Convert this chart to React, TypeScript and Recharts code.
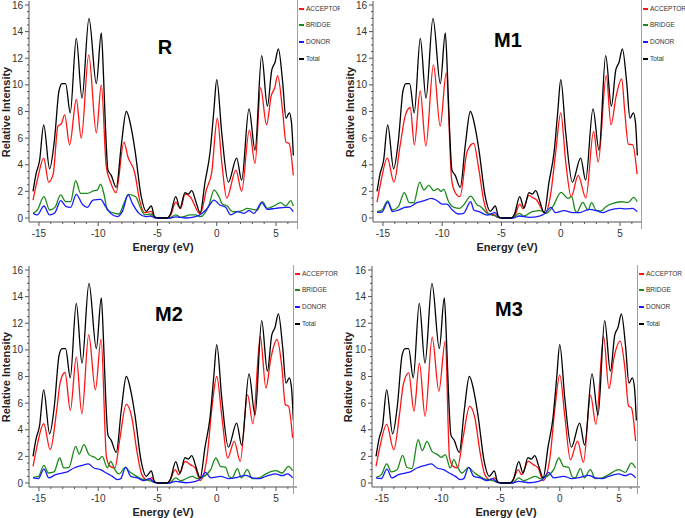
import { LineChart, Line, XAxis, YAxis, Legend } from "recharts";

type Pt = [number, number];

const SERIES = ["ACCEPTOR", "BRIDGE", "DONOR", "Total"];
const COLORS = ["#ff1414", "#1a8a1a", "#1a1aff", "#000000"];
const TITLES = ["R", "M1", "M2", "M3"];

const X_LABELED = [-15, -10, -5, 0, 5];
const X_TICKS = [-15, -14, -13, -12, -11, -10, -9, -8, -7, -6, -5, -4, -3, -2, -1, 0, 1, 2, 3, 4, 5, 6];
const Y_LABELED = [0, 2, 4, 6, 8, 10, 12, 14, 16];
const Y_TICKS = [
  0, 0.5, 1, 1.5, 2, 2.5, 3, 3.5, 4, 4.5, 5, 5.5, 6, 6.5, 7, 7.5, 8, 8.5, 9, 9.5, 10, 10.5, 11, 11.5, 12,
  12.5, 13, 13.5, 14, 14.5, 15, 15.5, 16,
];

// energy (eV), relative intensity
const TOTAL: Pt[] = [
  [-15.5, 2.0], [-15.25, 3.3], [-14.95, 4.3], [-14.6, 7.0], [-14.1, 3.7], [-13.7, 5.8], [-13.3, 9.6],
  [-13.05, 10.1], [-12.75, 10.1], [-12.36, 7.9], [-11.85, 13.5], [-11.37, 9.0], [-10.78, 15.0],
  [-10.16, 10.1], [-9.74, 13.9], [-9.55, 10.6], [-9.37, 6.4], [-9.18, 3.6], [-8.9, 3.2], [-8.48, 2.3],
  [-8.05, 5.5], [-7.63, 8.0], [-7.2, 6.7], [-6.9, 5.1], [-6.37, 1.6], [-5.95, 0.5], [-5.52, 0.9],
  [-5.25, 0.1], [-4.9, 0], [-4.2, 0], [-3.9, 0.3], [-3.46, 1.6], [-3.1, 0.75], [-2.68, 1.9], [-2.4, 1.8],
  [-2.11, 2.05], [-1.75, 1.2], [-1.4, 0.4], [-0.99, 2.7], [-0.57, 4.9], [-0.25, 8.0], [0.0, 10.4],
  [0.42, 6.4], [0.98, 2.7], [1.68, 4.5], [2.1, 2.85], [2.72, 8.2], [3.23, 5.1], [3.79, 12.2], [4.27, 8.4],
  [4.64, 11.1], [4.92, 11.7], [5.2, 12.7], [5.56, 10.2], [5.84, 7.5], [6.12, 7.9], [6.3, 7.2], [6.46, 4.7],
];

const R_ACCEPTOR: Pt[] = [
  [-15.5, 1.35], [-15.1, 3.0], [-14.6, 4.5], [-14.18, 2.7], [-13.8, 3.3], [-13.4, 6.9], [-13.1, 7.1],
  [-12.83, 7.75], [-12.41, 5.5], [-11.85, 8.9], [-11.43, 6.0], [-10.8, 12.25], [-10.16, 6.4], [-9.74, 10.0],
  [-9.32, 3.85], [-9.0, 2.8], [-8.5, 1.9], [-7.83, 5.7], [-7.5, 4.6], [-6.92, 3.4], [-6.5, 1.3], [-6.1, 0.4],
  [-5.52, 0.5], [-5.25, 0.05], [-4.9, 0], [-4.2, 0], [-3.9, 0.2], [-3.46, 1.2], [-3.05, 0.7], [-2.68, 1.8],
  [-2.25, 1.6], [-1.4, 0.3], [-0.85, 2.2], [-0.43, 3.4], [0.05, 7.5], [0.42, 4.2], [0.84, 1.5], [1.62, 3.6],
  [2.1, 2.0], [2.75, 6.6], [3.23, 4.1], [3.7, 9.8], [4.2, 7.0], [4.6, 9.2], [4.9, 9.8], [5.14, 10.7],
  [5.56, 8.0], [5.84, 5.7], [6.1, 5.6], [6.46, 3.2],
];

const R_BRIDGE: Pt[] = [
  [-15.5, 0.35], [-15.14, 0.6], [-14.58, 1.6], [-14.1, 0.6], [-13.65, 0.8], [-13.17, 1.73], [-12.75, 1.23],
  [-12.33, 1.23], [-11.9, 2.8], [-11.48, 1.85], [-10.92, 1.85], [-10.36, 2.05], [-10.08, 2.1], [-9.8, 2.55],
  [-9.5, 1.73], [-9.23, 0.6], [-8.8, 0.4], [-8.25, 0.3], [-7.83, 1.1], [-7.46, 1.78], [-6.84, 1.6],
  [-6.42, 0.73], [-6.05, 0.23], [-5.58, 0.3], [-5.15, 0.05], [-4.8, 0], [-4.0, 0], [-3.47, 0.23],
  [-3.05, 0.05], [-2.2, 0.23], [-1.78, 0.23], [-1.36, 0.1], [-0.65, 0.98], [-0.23, 2.1], [0.19, 1.6],
  [0.47, 1.05], [0.89, 0.9], [1.32, 0.48], [1.74, 0.48], [2.16, 0.55], [2.58, 0.73], [3.0, 0.65],
  [3.42, 0.6], [3.85, 1.23], [4.27, 0.73], [4.83, 0.9], [5.39, 1.15], [5.82, 0.9], [6.24, 1.3], [6.46, 0.9],
];

const R_DONOR: Pt[] = [
  [-15.5, 0.35], [-15.14, 0.23], [-14.58, 0.9], [-14.1, 0.23], [-13.65, 0.4], [-13.17, 1.3], [-12.7, 0.85],
  [-12.33, 0.8], [-11.85, 1.78], [-11.34, 1.03], [-10.92, 0.8], [-10.44, 1.35], [-9.8, 1.4], [-9.37, 0.85],
  [-8.95, 0.35], [-8.39, 0.1], [-7.97, 0.48], [-7.46, 1.73], [-7.12, 1.1], [-6.56, 0.35], [-6.0, 0.1],
  [-5.58, 0.15], [-5.2, 0], [-3.9, 0], [-3.47, 0.08], [-2.6, 0], [-1.78, 0.1], [-1.22, 0.35], [-0.79, 0.73],
  [-0.23, 1.35], [0.25, 0.98], [0.75, 0.8], [1.18, 0.23], [1.74, 0.48], [2.3, 0.35], [2.72, 0.55],
  [3.14, 0.35], [3.79, 1.15], [4.27, 0.65], [4.97, 0.73], [5.82, 0.8], [6.1, 0.8], [6.45, 0.48],
];

const M1_ACCEPTOR: Pt[] = [
  [-15.5, 1.2], [-15.2, 2.6], [-14.63, 4.5], [-14.07, 2.7], [-13.56, 5.4], [-13.1, 7.75], [-12.7, 8.3],
  [-12.35, 5.5], [-11.86, 9.55], [-11.38, 5.4], [-10.74, 11.5], [-10.17, 6.9], [-9.66, 10.9], [-9.2, 2.85],
  [-8.9, 1.9], [-8.5, 1.6], [-7.9, 5.0], [-7.35, 5.6], [-6.9, 3.6], [-6.5, 1.3], [-6.05, 0.3], [-5.6, 0.25],
  [-5.35, 0.05], [-4.9, 0], [-4.2, 0], [-3.96, 0.05], [-3.45, 1.05], [-3.2, 0.7], [-2.68, 1.7], [-2.31, 1.5],
  [-2.1, 1.4], [-1.55, 0.6], [-1.32, 0.35], [-0.85, 1.8], [-0.42, 5.0], [0.0, 7.9], [0.42, 4.2], [0.88, 1.6],
  [1.47, 3.2], [2.12, 1.5], [2.77, 6.5], [3.16, 4.2], [3.84, 10.7], [4.24, 7.0], [4.66, 9.1], [5.14, 10.45],
  [5.4, 8.0], [5.7, 5.55], [6.07, 5.5], [6.44, 3.3],
];

const M1_BRIDGE: Pt[] = [
  [-15.5, 0.48], [-15.08, 0.6], [-14.6, 1.28], [-14.2, 0.6], [-13.7, 0.85], [-13.2, 1.9], [-12.77, 1.15],
  [-12.4, 1.15], [-11.9, 2.7], [-11.55, 2.1], [-11.13, 2.45], [-10.7, 2.05], [-10.37, 2.2], [-10.1, 2.0],
  [-9.86, 2.15], [-9.5, 1.3], [-9.0, 0.8], [-8.53, 0.73], [-8.2, 0.97], [-7.6, 1.65], [-7.04, 0.97],
  [-6.75, 0.85], [-6.2, 0.35], [-5.5, 0.15], [-5.0, 0], [-4.1, 0], [-3.5, 0.35], [-3.1, 0.15], [-2.4, 0.48],
  [-1.7, 0.55], [-1.25, 0.35], [-0.68, 0.85], [0.03, 1.92], [0.6, 1.48], [0.93, 1.6], [1.2, 0.6],
  [1.35, 0.43], [1.86, 1.18], [2.3, 0.6], [2.6, 1.15], [2.97, 0.6], [3.4, 0.53], [3.8, 0.85], [4.4, 1.1],
  [5.1, 1.22], [5.7, 1.18], [6.15, 1.55], [6.45, 1.22],
];

const M1_DONOR: Pt[] = [
  [-15.5, 0.43], [-15.08, 0.45], [-14.6, 1.2], [-14.2, 0.48], [-13.7, 0.6], [-13.15, 0.8], [-12.7, 0.85],
  [-12.15, 1.15], [-11.6, 1.28], [-10.9, 1.48], [-10.43, 1.3], [-10.0, 1.05], [-9.6, 1.05], [-9.2, 0.65],
  [-8.6, 0.3], [-8.2, 0.35], [-7.6, 1.22], [-7.33, 0.6], [-6.9, 0.48], [-6.2, 0.22], [-5.55, 0.4],
  [-5.2, 0.05], [-4.9, 0], [-4.0, 0], [-3.5, 0.15], [-2.65, 0.05], [-1.8, 0.15], [-1.4, 0.3], [-0.82, 0.8],
  [-0.45, 0.4], [0.3, 0.55], [1.0, 0.4], [1.57, 0.4], [2.4, 0.65], [3.0, 0.55], [3.55, 0.4], [4.1, 0.6],
  [4.95, 0.73], [5.5, 0.68], [6.05, 0.73], [6.45, 0.48],
];

const M2_ACCEPTOR: Pt[] = [
  [-15.5, 1.25], [-15.2, 2.6], [-14.6, 4.45], [-14.05, 2.5], [-13.5, 5.5], [-13.2, 7.6], [-12.8, 8.3],
  [-12.35, 5.45], [-11.85, 9.45], [-11.38, 5.2], [-10.8, 11.15], [-10.24, 7.0], [-9.76, 10.8], [-9.3, 1.9],
  [-9.0, 1.25], [-8.6, 1.13], [-8.16, 3.4], [-7.64, 5.9], [-7.16, 4.9], [-6.74, 2.4], [-6.32, 0.63],
  [-5.9, 0.25], [-5.5, 0.38], [-5.2, 0.08], [-4.9, 0], [-4.2, 0], [-3.95, 0.2], [-3.5, 1.0], [-3.22, 0.63],
  [-2.66, 1.63], [-2.24, 1.38], [-1.82, 1.13], [-1.4, 0.18], [-0.83, 1.88], [-0.41, 5.64], [0.0, 8.0],
  [0.44, 4.9], [0.92, 1.88], [1.48, 3.13], [1.98, 1.63], [2.6, 6.64], [3.05, 4.44], [3.67, 11.0],
  [4.15, 7.14], [4.57, 9.4], [5.08, 10.78], [5.5, 8.65], [5.78, 5.9], [6.06, 5.76], [6.4, 3.38],
];

const M2_BRIDGE: Pt[] = [
  [-15.5, 0.43], [-15.05, 0.5], [-14.58, 1.33], [-14.2, 0.75], [-13.73, 0.83], [-13.25, 1.88], [-12.9, 1.13],
  [-12.47, 1.18], [-11.9, 2.75], [-11.6, 2.18], [-11.2, 2.88], [-10.78, 2.13], [-10.3, 1.93], [-10.0, 1.75],
  [-9.66, 2.0], [-9.23, 1.13], [-8.95, 1.63], [-8.59, 1.0], [-8.25, 0.68], [-7.69, 1.2], [-7.4, 0.88],
  [-6.98, 0.63], [-6.42, 0.33], [-5.7, 0.18], [-5.3, 0.08], [-4.9, 0], [-4.0, 0], [-3.47, 0.38],
  [-3.05, 0.18], [-2.06, 0.5], [-1.64, 0.33], [-1.22, 0.43], [-0.51, 1.0], [-0.08, 1.88], [0.33, 1.25],
  [0.75, 1.18], [1.03, 0.5], [1.3, 0.38], [1.74, 1.08], [2.08, 0.38], [2.58, 1.0], [3.0, 0.33],
  [3.57, 0.38], [4.13, 0.68], [4.97, 0.93], [5.53, 0.75], [6.04, 1.25], [6.4, 0.93],
];

const M2_DONOR: Pt[] = [
  [-15.5, 0.38], [-15.05, 0.33], [-14.58, 1.05], [-14.16, 0.38], [-13.6, 0.63], [-13.03, 0.75], [-12.52, 0.88],
  [-12.05, 1.13], [-11.34, 1.33], [-10.84, 1.43], [-10.36, 1.13], [-9.8, 1.0], [-9.32, 0.75], [-8.8, 0.5],
  [-8.4, 0.25], [-8.1, 0.33], [-7.69, 1.18], [-7.26, 0.5], [-6.7, 0.38], [-6.14, 0.18], [-5.66, 0.33],
  [-5.3, 0.05], [-4.9, 0], [-4.0, 0], [-3.47, 0.13], [-2.6, 0.02], [-1.78, 0.13], [-1.36, 0.33],
  [-0.94, 0.8], [-0.51, 0.38], [0.33, 0.5], [1.03, 0.33], [1.74, 0.43], [2.44, 0.58], [3.0, 0.38],
  [3.57, 0.33], [4.13, 0.5], [4.97, 0.68], [5.53, 0.55], [5.96, 0.68], [6.4, 0.38],
];

const M3_ACCEPTOR: Pt[] = [
  [-15.5, 1.25], [-15.2, 2.6], [-14.6, 4.4], [-14.0, 2.5], [-13.5, 5.3], [-13.2, 7.4], [-12.74, 8.27],
  [-12.3, 5.4], [-11.84, 9.0], [-11.36, 5.0], [-10.76, 10.95], [-10.2, 6.9], [-9.66, 10.65], [-9.3, 1.9],
  [-9.0, 1.25], [-8.64, 1.13], [-8.16, 3.4], [-7.6, 5.76], [-7.16, 4.9], [-6.74, 2.4], [-6.32, 0.63],
  [-5.9, 0.25], [-5.5, 0.38], [-5.2, 0.08], [-4.9, 0], [-4.2, 0], [-3.95, 0.2], [-3.5, 1.0], [-3.22, 0.63],
  [-2.66, 1.63], [-2.24, 1.38], [-1.82, 1.13], [-1.4, 0.18], [-0.83, 1.88], [-0.41, 5.6], [0.0, 8.1],
  [0.44, 4.9], [0.9, 1.75], [1.5, 3.15], [2.0, 1.55], [2.6, 6.6], [3.05, 4.4], [3.7, 11.0], [4.15, 7.1],
  [4.55, 9.3], [5.1, 10.65], [5.5, 8.6], [5.8, 5.8], [6.05, 5.65], [6.4, 3.15],
];

const M3_BRIDGE: Pt[] = [
  [-15.5, 0.43], [-15.05, 0.63], [-14.6, 1.43], [-14.2, 0.83], [-13.73, 1.0], [-13.25, 2.08], [-12.9, 1.18],
  [-12.47, 1.08], [-11.95, 3.25], [-11.6, 2.43], [-11.2, 3.13], [-10.78, 2.38], [-10.3, 2.13], [-10.0, 1.93],
  [-9.66, 2.13], [-9.23, 1.13], [-8.95, 1.75], [-8.59, 1.13], [-8.25, 0.75], [-7.69, 1.18], [-7.4, 0.93],
  [-6.98, 0.63], [-6.42, 0.33], [-5.7, 0.18], [-5.3, 0.08], [-4.9, 0], [-4.0, 0], [-3.47, 0.38],
  [-3.05, 0.18], [-2.06, 0.5], [-1.64, 0.33], [-1.22, 0.43], [-0.51, 1.0], [-0.08, 1.88], [0.33, 1.25],
  [0.75, 1.18], [1.03, 0.5], [1.3, 0.38], [1.74, 1.08], [2.08, 0.38], [2.58, 1.0], [3.0, 0.33],
  [3.57, 0.38], [4.13, 0.63], [4.97, 1.0], [5.53, 0.8], [6.04, 1.5], [6.4, 1.13],
];

const M3_DONOR: Pt[] = M2_DONOR;

const PANEL_SERIES: Pt[][][] = [
  [R_ACCEPTOR, R_BRIDGE, R_DONOR, TOTAL],
  [M1_ACCEPTOR, M1_BRIDGE, M1_DONOR, TOTAL],
  [M2_ACCEPTOR, M2_BRIDGE, M2_DONOR, TOTAL],
  [M3_ACCEPTOR, M3_BRIDGE, M3_DONOR, TOTAL],
];

// panel placement inside the 685x518 figure
const LAYOUT = [
  { x: 0, y: 0, w: 340, plotLeft: 29, legendX: 297, titleX: 165, titleY: 47, yLabelX: 6 },
  { x: 340, y: 0, w: 345, plotLeft: 33, legendX: 301, titleX: 168, titleY: 40, yLabelX: 10 },
  { x: 0, y: 265, w: 340, plotLeft: 29, legendX: 293, titleX: 169, titleY: 49, yLabelX: 6 },
  { x: 340, y: 265, w: 345, plotLeft: 32, legendX: 297, titleX: 169, titleY: 44, yLabelX: 8 },
];

const H = 258;
const PLOT_W = 268;
const PLOT_BOTTOM = 222;
const FONT = "'Liberation Sans', Arial, sans-serif";
const AXIS = "#555";
const LEGEND_ROWS = [9, 25, 42, 59];

const toRows = (pts: Pt[]) => pts.map(([e, v]) => ({ e, v }));

const YTick = (props: any) => {
  const { x, y, payload } = props;
  const major = Y_LABELED.includes(payload.value);
  return (
    <g>
      <line x1={x - (major ? 4 : 2)} x2={x} y1={y} y2={y} stroke={AXIS} strokeWidth={1} />
      {major && (
        <text x={x - 6} y={y} dy={3.5} textAnchor="end" fontSize={10} fill="#333" fontFamily={FONT}>
          {payload.value}
        </text>
      )}
    </g>
  );
};

const XTick = (props: any) => {
  const { x, y, payload } = props;
  const major = X_LABELED.includes(payload.value);
  return (
    <g>
      <line x1={x} x2={x} y1={y} y2={y + (major ? 4 : 2)} stroke={AXIS} strokeWidth={1} />
      {major && (
        <text x={x} y={y + 15} textAnchor="middle" fontSize={10} fill="#333" fontFamily={FONT}>
          {payload.value}
        </text>
      )}
    </g>
  );
};

const renderLegend = () => (
  <div
    style={{
      position: "relative",
      borderLeft: "1px solid #a0a0a0",
      height: 229,
      boxSizing: "border-box",
      fontFamily: FONT,
    }}
  >
    {SERIES.map((name, i) => (
      <div key={name} style={{ position: "absolute", left: 0, top: LEGEND_ROWS[i] - 5, height: 10, whiteSpace: "nowrap" }}>
        <div style={{ position: "absolute", left: 1, top: 4, width: 5, height: 2, background: COLORS[i] }} />
        <div style={{ position: "absolute", left: 8, top: 0, fontSize: 6.5, lineHeight: "10px", color: "#333" }}>{name}</div>
      </div>
    ))}
  </div>
);

function Panel({ index }: { index: number }) {
  const lay = LAYOUT[index];
  const series = PANEL_SERIES[index];
  return (
    <div style={{ position: "absolute", left: lay.x, top: lay.y, width: lay.w, height: H, overflow: "hidden" }}>
      <LineChart
        width={lay.w}
        height={H}
        margin={{ top: 1, left: 0, right: lay.w - lay.plotLeft - PLOT_W, bottom: 0 }}
      >
        <XAxis
          dataKey="e"
          type="number"
          domain={[-15.84, 6.77]}
          allowDataOverflow
          ticks={X_TICKS}
          interval={0}
          height={H - PLOT_BOTTOM}
          tickSize={0}
          tickMargin={0}
          tick={<XTick />}
          axisLine={{ stroke: AXIS }}
        />
        <YAxis
          type="number"
          domain={[-0.3, 16.3]}
          allowDataOverflow
          ticks={Y_TICKS}
          interval={0}
          width={lay.plotLeft}
          tickSize={0}
          tickMargin={0}
          tick={<YTick />}
          axisLine={{ stroke: AXIS }}
        />
        <Legend
          layout="horizontal"
          verticalAlign="middle"
          align="center"
          wrapperStyle={{ left: lay.legendX, top: 0, width: 60, height: 229 }}
          content={renderLegend}
        />
        {series.map((pts, i) => (
          <Line
            key={SERIES[i]}
            name={SERIES[i]}
            data={toRows(pts)}
            dataKey="v"
            type="monotone"
            stroke={COLORS[i]}
            strokeWidth={1.3}
            dot={false}
            activeDot={false}
            isAnimationActive={false}
          />
        ))}
      </LineChart>
      <div
        style={{
          position: "absolute",
          left: lay.titleX,
          top: lay.titleY,
          transform: "translate(-50%, -50%)",
          fontFamily: FONT,
          fontWeight: "bold",
          fontSize: 20,
          color: "#000",
        }}
      >
        {TITLES[index]}
      </div>
      <div
        style={{
          position: "absolute",
          left: lay.yLabelX,
          top: 112,
          transform: "translate(-50%, -50%) rotate(-90deg)",
          fontFamily: FONT,
          fontWeight: "bold",
          fontSize: 11,
          color: "#222",
          whiteSpace: "nowrap",
        }}
      >
        Relative Intensity
      </div>
      <div
        style={{
          position: "absolute",
          left: lay.plotLeft + PLOT_W / 2,
          top: 247,
          transform: "translate(-50%, -50%)",
          fontFamily: FONT,
          fontWeight: "bold",
          fontSize: 11,
          color: "#222",
          whiteSpace: "nowrap",
        }}
      >
        Energy (eV)
      </div>
    </div>
  );
}

export default function App() {
  return (
    <div
      style={{
        position: "absolute",
        left: 0,
        top: 0,
        width: 685,
        height: 518,
        overflow: "hidden",
        background: "#fff",
      }}
    >
      {TITLES.map((t, i) => (
        <Panel key={t} index={i} />
      ))}
    </div>
  );
}
